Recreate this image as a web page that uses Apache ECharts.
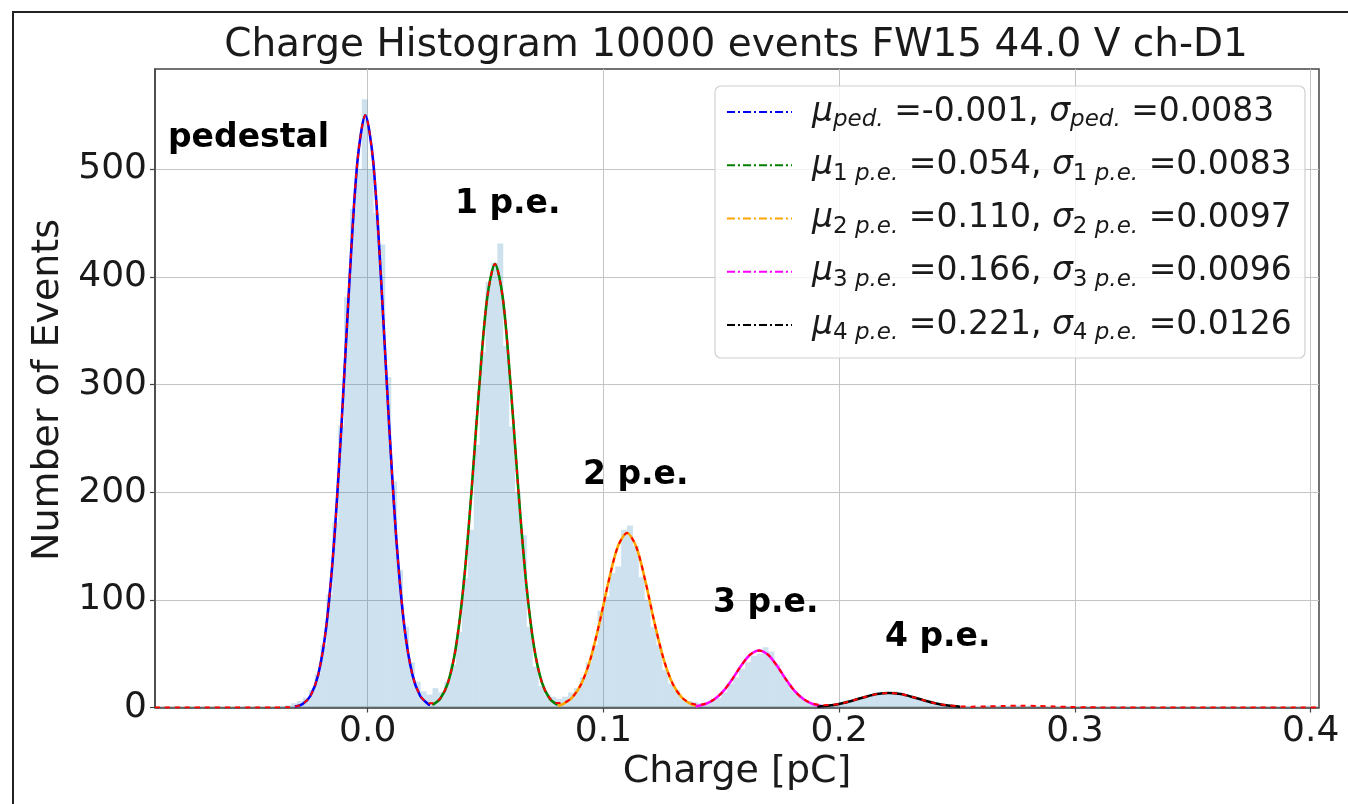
<!DOCTYPE html>
<html>
<head>
<meta charset="utf-8">
<script src="https://cdn.jsdelivr.net/npm/echarts@6/dist/echarts.min.js"></script>
<style>
html,body{margin:0;padding:0;background:#fff;}
#chart{width:1348px;height:804px;}
</style>
</head>
<body>
<div id="chart"></div>
<script>
// ---------- data ----------
const titleText = 'Charge Histogram 10000 events FW15 44.0 V ch-D1';
const xTitle = 'Charge [pC]';
const yTitle = 'Number of Events';
const xTicks = [0, 0.1, 0.2, 0.3, 0.4];
const yTicks = [0, 100, 200, 300, 400, 500];

// histogram: bins of width binWidth starting at binStart
const binStart = -0.04;
const binWidth = 0.0025;
const histCounts = [
  0, 1, 2, 4, 6, 9, 16, 31, 58, 105,
  172, 262, 381, 463, 500, 565, 500, 459, 430, 307,
  210, 128, 75, 42, 24, 15, 12, 18, 14, 24,
  40, 70, 120, 165, 244, 330, 395, 413, 431, 336,
  261, 200, 160, 75, 38, 20, 12, 10, 8, 10,
  14, 18, 28, 42, 58, 90, 103, 125, 131, 165,
  169, 150, 121, 100, 75, 58, 35, 22, 16, 8,
  6, 5, 4, 4, 6, 9, 14, 22, 28, 36,
  42, 48, 50, 56, 52, 40, 30, 22, 15, 10,
  6, 4, 3, 2, 2, 3, 4, 5, 7, 9,
  10, 11, 13, 14, 12, 15, 13, 11, 10, 8,
  7, 5, 4, 3, 2, 1, 1, 1, 1, 0,
  1, 2, 1, 2, 1, 2, 2, 1, 2, 1,
  1, 0, 1, 0, 1, 0, 0, 1, 0, 0,
  0, 0, 0, 1, 0, 0, 0, 0, 0, 0,
  0, 0, 0, 0, 0, 0, 0, 0, 0, 0,
  0, 0, 0, 0, 0, 0, 0, 0, 0, 0,
  0, 0, 0, 0, 0, 0
];

const pedX = [-0.03088,-0.02756,-0.02424,-0.02092,-0.0176,-0.01428,-0.01096,-0.00764,-0.00432,-0.001,0.00232,0.00564,0.00896,0.01228,0.0156,0.01892,0.02224,0.02556,0.0265];
const pedY = [0.8,3.3,10.9,30.9,74.4,152.9,267.7,399.4,507.7,550,507.7,399.4,267.7,152.9,74.4,30.9,10.9,3.3,2.3];

const pe1X = [0.02744,0.03076,0.03408,0.0374,0.04072,0.04404,0.04736,0.05068,0.054,0.05732,0.06064,0.06396,0.06728,0.0706,0.07392,0.07724,0.08056];
const pe1Y = [2.5,8.2,23.1,55.7,114.5,200.6,299.2,380.3,412,380.3,299.2,200.6,114.5,55.7,23.1,8.2,2.5];

const pe2X = [0.0806,0.08284,0.08672,0.0906,0.09448,0.09836,0.10224,0.10612,0.110,0.11388,0.11776,0.12164,0.12552,0.1294,0.13328,0.13716,0.1405];
const pe2Y = [1.6,3.2,9.1,21.9,45.0,78.9,117.6,149.5,162,149.5,117.6,78.9,45.0,21.9,9.1,3.2,1.2];

const pe3X = [0.13912,0.14296,0.1468,0.15064,0.15448,0.15832,0.16216,0.166,0.16984,0.17368,0.17752,0.18136,0.1852,0.18904,0.19288];
const pe3Y = [1.05,3.0,7.2,14.7,25.8,38.5,48.9,53,48.9,38.5,25.8,14.7,7.2,3.0,1.05];

const pe4X = [0.19076,0.1958,0.20084,0.20588,0.21092,0.21596,0.221,0.22604,0.23108,0.23612,0.24116,0.2462,0.25124];
const pe4Y = [0.76,1.83,3.75,6.57,9.8,12.46,13.5,12.46,9.8,6.57,3.75,1.83,0.76];

// total fit (red dashed)
const totalX = [-0.0902,-0.04,-0.0342,-0.03088,-0.02756,-0.02424,-0.02092,-0.0176,-0.01428,-0.01096,-0.00764,-0.00432,-0.001,0.00232,0.00564,0.00896,0.01228,0.0156,0.01892,0.02224,0.02556,0.0265,0.02744,0.03076,0.03408,0.0374,0.04072,0.04404,0.04736,0.05068,0.054,0.05732,0.06064,0.06396,0.06728,0.0706,0.07392,0.07724,0.08056,0.08284,0.08672,0.0906,0.09448,0.09836,0.10224,0.10612,0.110,0.11388,0.11776,0.12164,0.12552,0.1294,0.13328,0.13716,0.1405,0.14296,0.1468,0.15064,0.15448,0.15832,0.16216,0.166,0.16984,0.17368,0.17752,0.18136,0.1852,0.18904,0.19288,0.1958,0.20084,0.20588,0.21092,0.21596,0.221,0.22604,0.23108,0.23612,0.24116,0.2462,0.25124,0.2563,0.263,0.27,0.277,0.284,0.291,0.298,0.305,0.312,0.32,0.4035];
const totalY = [0,0.05,0.2,0.8,3.3,10.9,30.9,74.4,152.9,267.7,399.4,507.7,550,507.7,399.4,267.7,152.9,74.4,30.9,11.1,4.1,3.9,4.0,8.6,23.2,55.7,114.5,200.6,299.2,380.3,412,380.3,299.2,200.6,114.5,55.7,23.1,8.7,4.1,4.3,9.3,21.9,45.0,78.9,117.6,149.5,162,149.5,117.6,78.9,45.0,21.9,9.3,3.8,2.75,3.5,7.3,14.7,25.8,38.5,48.9,53,48.9,38.5,25.8,14.7,7.4,3.5,2.2,2.3,3.8,6.57,9.8,12.46,13.5,12.46,9.8,6.57,3.75,2.0,1.06,0.8,1.04,1.41,1.6,1.41,0.97,0.53,0.22,0.07,0.01,0];

// legend entries
const legendColors = ['#0000ff','#008000','#ffa500','#ff00ff','#000000'];
const legendSubs = ['ped.','1 p.e.','2 p.e.','3 p.e.','4 p.e.'];
const legendMu = ['-0.001','0.054','0.110','0.166','0.221'];
const legendSigma = ['0.0083','0.0083','0.0097','0.0096','0.0126'];

// peak annotations
const peakLabels = ['pedestal','1 p.e.','2 p.e.','3 p.e.','4 p.e.'];

// ---------- chart ----------
const chart = echarts.init(document.getElementById('chart'), null, {renderer:'canvas'});
const FONT = 'DejaVu Sans';

function pairs(xs, ys){ return xs.map((x,i)=>[x, ys[i]]); }

const histData = histCounts.map((c,i)=>[binStart + i*binWidth, binStart + (i+1)*binWidth, c]);

function curve(name, xs, ys, color, z){
  return {
    name, type:'line', data: pairs(xs, ys), showSymbol:false, symbol:'none',
    smooth:0.3, z, lineStyle:{color, width:2.6}, silent:true
  };
}

// legend graphic
const legTop = 112, legStep = 53.25;
const legendGraphics = [{
  type:'rect', shape:{x:715, y:86, width:590, height:272, r:6},
  style:{fill:'rgba(255,255,255,0.8)', stroke:'#d0d0d0', lineWidth:1.2}, z:10
}];
function subRich(sub){
  const m = sub.match(/^(\d+) (.*)$/);
  if (m) return '{sn|' + m[1] + ' }{si|' + m[2] + '}';
  return '{si|' + sub + '}';
}
legendColors.forEach((c,i)=>{
  const y = legTop + i*legStep;
  legendGraphics.push({
    type:'line', shape:{x1:727, y1:y, x2:792, y2:y},
    style:{stroke:c, lineWidth:2, lineDash:[8,3,2,3]}, z:11
  });
  const txt = '{m|μ}' + subRich(legendSubs[i]) + '{n| =' + legendMu[i] + ', }' +
              '{m|σ}' + subRich(legendSubs[i]) + '{n| =' + legendSigma[i] + '}';
  legendGraphics.push({
    type:'text', z:11,
    style:{
      text: txt, x:812, y:y, align:'left', verticalAlign:'middle',
      fill:'#1a1a1a', fontFamily:FONT, fontSize:33,
      rich:{
        m:{fontFamily:FONT, fontStyle:'italic', fontSize:33, lineHeight:40, fill:'#1a1a1a'},
        n:{fontFamily:FONT, fontSize:33, lineHeight:40, fill:'#1a1a1a'},
        si:{fontFamily:FONT, fontStyle:'italic', fontSize:23, lineHeight:24, verticalAlign:'bottom', fill:'#1a1a1a'},
        sn:{fontFamily:FONT, fontSize:23, lineHeight:24, verticalAlign:'bottom', fill:'#1a1a1a'}
      }
    }
  });
});

const annPos = [[168,138],[455,204],[583,475],[713,603],[885,637]];
const annGraphics = peakLabels.map((t,i)=>({
  type:'text', z:12,
  style:{text:t, x:annPos[i][0], y:annPos[i][1], align:'left', verticalAlign:'middle',
         fontFamily:FONT, fontWeight:'bold', fontSize:33, fill:'#000'}
}));

const option = {
  animation:false,
  backgroundColor:'#ffffff',
  grid:{left:155, right:29, top:69, bottom:96.5, show:true, borderColor:'#444', borderWidth:1.5, backgroundColor:'transparent'},
  xAxis:{
    type:'value', min:-0.0902, max:0.4035, splitNumber:5,
    axisLine:{show:true, onZero:false, lineStyle:{color:'#444', width:1.5}},
    axisTick:{show:true, length:5, customValues:xTicks, lineStyle:{color:'#444', width:1.2}},
    splitLine:{show:true, lineStyle:{color:'#c4c4c4', width:1}},
    axisLabel:{
      fontFamily:FONT, fontSize:36, color:'#1a1a1a', margin:6, customValues:xTicks,
      formatter:(v)=> Number(v).toFixed(1)
    }
  },
  yAxis:{
    type:'value', min:0, max:593, interval:100,
    axisLine:{show:true, onZero:false, lineStyle:{color:'#444', width:1.5}},
    axisTick:{show:true, length:5, customValues:yTicks, lineStyle:{color:'#444', width:1.2}},
    splitLine:{show:true, lineStyle:{color:'#c4c4c4', width:1}},
    axisLabel:{
      fontFamily:FONT, fontSize:36, color:'#1a1a1a', margin:8, customValues:yTicks,
      formatter:(v)=> String(Math.round(v))
    }
  },
  series:[
    {
      name:'hist', type:'custom', z:1, silent:true,
      encode:{x:[0,1], y:2},
      data: histData,
      renderItem:(params, api)=>{
        const p0 = api.coord([api.value(0), api.value(2)]);
        const p1 = api.coord([api.value(1), 0]);
        return {type:'rect', shape:{x:p0[0], y:p0[1], width:p1[0]-p0[0], height:p1[1]-p0[1]},
                style:{fill:'rgba(31,119,180,0.22)'}};
      }
    },
    curve('ped', pedX, pedY, '#0000ff', 3),
    curve('1pe', pe1X, pe1Y, '#008000', 3),
    curve('2pe', pe2X, pe2Y, '#ffa500', 3),
    curve('3pe', pe3X, pe3Y, '#ff00ff', 3),
    curve('4pe', pe4X, pe4Y, '#000000', 3),
    {
      name:'total', type:'line', data: pairs(totalX, totalY), showSymbol:false, symbol:'none',
      smooth:0.3, z:4, silent:true, lineStyle:{color:'#ff0000', width:2, type:[5,5]}
    }
  ],
  graphic:[
    {type:'rect', shape:{x:13, y:12, width:1400, height:900}, style:{fill:'none', stroke:'#222', lineWidth:2}, z:0, silent:true},
    {type:'text', z:12, style:{text:titleText, x:736, y:46, align:'center', verticalAlign:'middle', fontFamily:FONT, fontSize:39, fill:'#1a1a1a'}},
    {type:'text', z:12, style:{text:xTitle, x:737, y:772, align:'center', verticalAlign:'middle', fontFamily:FONT, fontSize:38, fill:'#1a1a1a'}},
    {type:'text', z:12, x:48, y:390, rotation:Math.PI/2, style:{text:yTitle, x:0, y:0, align:'center', verticalAlign:'middle', fontFamily:FONT, fontSize:38, fill:'#1a1a1a'}}
  ].concat(legendGraphics, annGraphics)
};
chart.setOption(option);
</script>
</body>
</html>
